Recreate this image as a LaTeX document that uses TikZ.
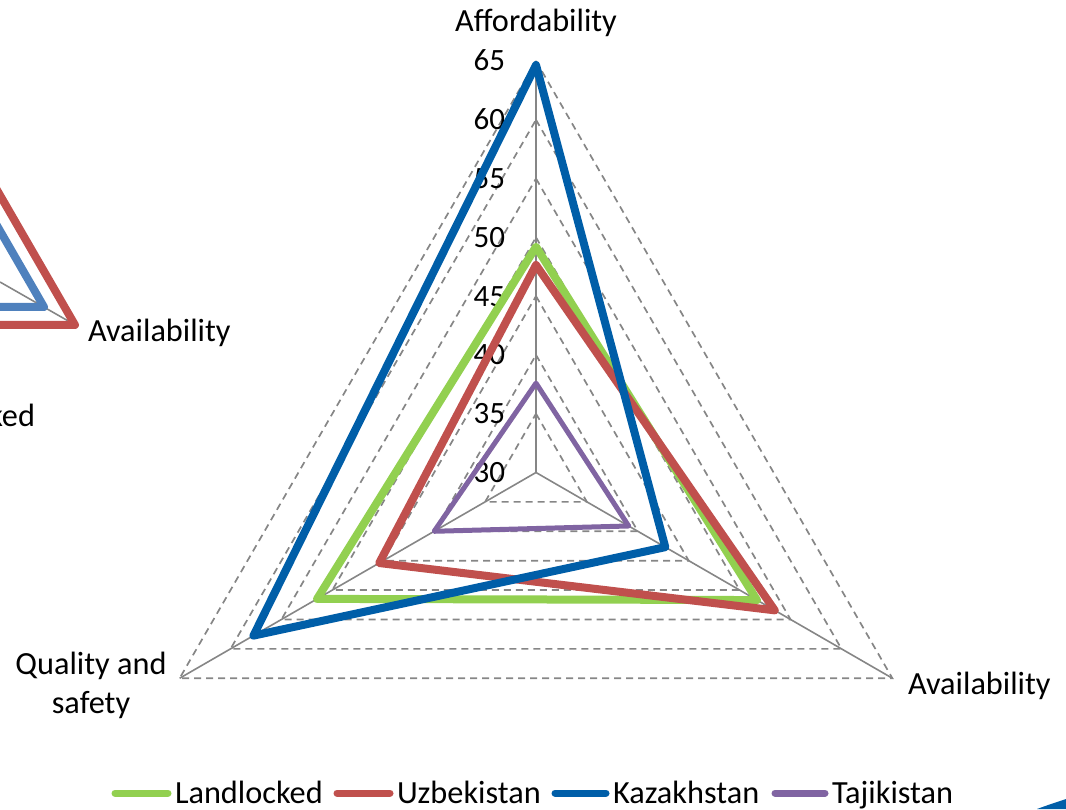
\documentclass[tikz,border=0pt]{standalone}
\usepackage{fontspec}
\setmainfont{Carlito}
\definecolor{cgreen}{HTML}{92D050}
\definecolor{cred}{HTML}{C0504D}
\definecolor{cblue}{HTML}{005EA8}
\definecolor{cpurple}{HTML}{8064A2}
\definecolor{clblue}{HTML}{4F81BD}
\definecolor{gridgray}{HTML}{868686}
\begin{document}
\begin{tikzpicture}[x=1pt,y=1pt,
  every node/.style={inner sep=0pt, outer sep=0pt, font=\fontsize{32.3}{39}\selectfont},
  numlabel/.style={anchor=base east, font=\fontsize{31}{37}\selectfont},
  gridline/.style={draw=gridgray, line width=1.7pt, dash pattern=on 7pt off 5pt},
  axisline/.style={draw=gridgray, line width=1.6pt},
  series/.style={line width=8pt, line join=round, line cap=round},
  thinseries/.style={line width=5pt, line join=round, line cap=round},
  legline/.style={line width=7pt, line cap=round}]
\useasboundingbox (0,0) rectangle (1066,809);
\clip (0,0) rectangle (1066,809);
\def\U{11.757}
% ---- left partial chart ----
\draw[axisline] (70,487) -- (0,527);
\draw[series, clblue] (-40,502) -- (44,502) -- (-40,647.5);
\draw[series, cred] (-40,484) -- (75,484) -- (-40,683);
\node[anchor=base west] (lavail) at (88,467) {Availability};
\node[anchor=base east] (lland) at (35,382) {Landlocked};
% ---- main radar chart ----
\begin{scope}[shift={(536,336.5)}]
  \foreach \v in {35,40,...,65}
    \draw[gridline] (90:{(\v-30)*\U}) -- (-30:{(\v-30)*\U}) -- (210:{(\v-30)*\U}) -- cycle;
  \foreach \a in {90,-30,210}
    \draw[axisline] (0,0) -- (\a:{35*\U});
  \foreach \v in {30,35,...,65}
    \node[numlabel] (lab\v) at (-31,{(\v-30)*\U-10}) {\v};
  \draw[series, cgreen] (90:{(49.2-30)*\U}) -- (-30:{(51.7-30)*\U}) -- (210:{(51.5-30)*\U}) -- cycle;
  \draw[series, cred] (90:{(47.65-30)*\U}) -- (-30:{(53.45-30)*\U}) -- (210:{(45.4-30)*\U}) -- cycle;
  \draw[series, cblue] (90:{(64.66-30)*\U}) -- (-30:{(42.7-30)*\U}) -- (210:{(57.75-30)*\U}) -- cycle;
  \draw[thinseries, cpurple] (90:{(37.6-30)*\U}) -- (-30:{(39.1-30)*\U}) -- (210:{(40.0-30)*\U}) -- cycle;
\end{scope}
\node[anchor=base] (afford) at (536,777) {Affordability};
\node[anchor=base west] (avail) at (908,114) {Availability};
\node[align=center, anchor=base] (qual) at (91,95) {Quality and\\safety};
% ---- legend ----
\draw[legline, cgreen] (115,16) -- (168,16);
\node[anchor=base west] (lg1) at (175,6) {Landlocked};
\draw[legline, cred] (337,16) -- (390,16);
\node[anchor=base west] (lg2) at (397,6) {Uzbekistan};
\draw[legline, cblue] (555,16) -- (606,16);
\node[anchor=base west] (lg3) at (613,6) {Kazakhstan};
\draw[legline, cpurple] (775,16) -- (825,16);
\node[anchor=base west] (lg4) at (832,6) {Tajikistan};
% ---- corner decoration ----
\fill[cblue] (1037,0) .. controls (1048,4) .. (1066,10) -- (1066,0) -- cycle;
\end{tikzpicture}
\end{document}
